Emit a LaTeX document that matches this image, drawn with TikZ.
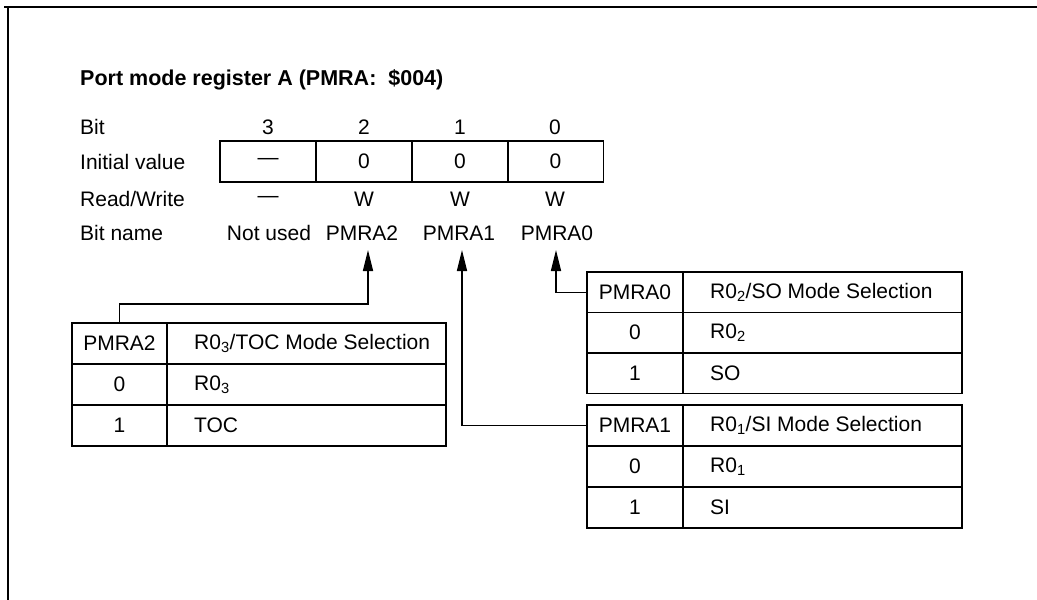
\documentclass[tikz,border=0pt]{standalone}
\usepackage{fontspec}
\setmainfont{Liberation Sans}
\usetikzlibrary{arrows.meta}
\begin{document}
\begin{tikzpicture}[x=1pt,y=-1pt,
  every node/.style={font=\fontsize{21}{25}\selectfont, inner sep=0pt},
  lbl/.style={anchor=west},
  cell/.style={draw, line width=1.6pt, minimum height=41pt, minimum width=96pt},
  wcell/.style={cell, minimum width=279pt},
  conn/.style={line width=1.4pt},
  arr/.style={conn, -{Triangle[length=21pt,width=10pt]}},
  frame/.style={line width=2.6pt}]
\useasboundingbox (0,0) rectangle (1037,600);
% frame
\draw[frame] (4,7) -- (1037,7);
\draw[frame] (8,6) -- (8,600);
% title
\node[lbl, font=\fontsize{21.5}{25}\selectfont\bfseries] (title) at (80,80) {Port mode register A (PMRA:\ \ \$004)};
% row labels
\node[lbl] (lbit) at (80,127) {Bit};
\node[lbl] (linit) at (80,162) {Initial value};
\node[lbl] (lrw) at (80,199) {Read/Write};
\node[lbl] (lname) at (80,233) {Bit name};
% bit numbers
\node (b3) at (268,127) {3};
\node (b2) at (364,127) {2};
\node (b1) at (460,127) {1};
\node (b0) at (555,127) {0};
% register cells
\node[cell] (i3) at (268,161.5) {—};
\node[cell] (i2) at (364,161.5) {0};
\node[cell] (i1) at (460,161.5) {0};
\node[cell] (i0) at (555.5,161.5) {0};
% read/write
\node (w3) at (268,199) {—};
\node (w2) at (364,199) {W};
\node (w1) at (460,199) {W};
\node (w0) at (555,199) {W};
% bit names
\node (n3) at (269,233) {Not used};
\node (n2) at (362,233) {PMRA2};
\node (n1) at (459,233) {PMRA1};
\node (n0) at (557,233) {PMRA0};
% arrow tips
\coordinate (a2) at (368,250);
\coordinate (a1) at (462,250);
\coordinate (a0) at (556,250);
\coordinate (k2) at (368,304);
% PMRA2 table
\node[cell, minimum width=95pt] (t2h1) at (119.5,343.5) {PMRA2};
\node[wcell] (t2h2) at (306.5,343.5) {};
\node[lbl] (t2h2t) at (194,343.5) {R0\textsubscript{3}/TOC Mode Selection};
\node[cell, minimum width=95pt] (t2a1) at (119.5,384.5) {0};
\node[wcell] (t2a2) at (306.5,384.5) {};
\node[lbl] (t2a2t) at (194,384.5) {R0\textsubscript{3}};
\node[cell, minimum width=95pt] (t2b1) at (119.5,425.5) {1};
\node[wcell] (t2b2) at (306.5,425.5) {};
\node[lbl] (t2b2t) at (194,425.5) {TOC};
% PMRA0 table
\node[cell, minimum height=40.5pt] (t0h1) at (635,292.25) {PMRA0};
\node[wcell, minimum height=40.5pt] (t0h2) at (822.5,292.25) {};
\node[lbl] (t0h2t) at (710,292.25) {R0\textsubscript{2}/SO Mode Selection};
\node[cell, minimum height=40.5pt] (t0a1) at (635,332.75) {0};
\node[wcell, minimum height=40.5pt] (t0a2) at (822.5,332.75) {};
\node[lbl] (t0a2t) at (710,332.75) {R0\textsubscript{2}};
\node[cell, minimum height=40.5pt] (t0b1) at (635,373.25) {1};
\node[wcell, minimum height=40.5pt] (t0b2) at (822.5,373.25) {};
\node[lbl] (t0b2t) at (710,373.25) {SO};
% PMRA1 table
\node[cell] (t1h1) at (635,425.5) {PMRA1};
\node[wcell] (t1h2) at (822.5,425.5) {};
\node[lbl] (t1h2t) at (710,425.5) {R0\textsubscript{1}/SI Mode Selection};
\node[cell] (t1a1) at (635,466.5) {0};
\node[wcell] (t1a2) at (822.5,466.5) {};
\node[lbl] (t1a2t) at (710,466.5) {R0\textsubscript{1}};
\node[cell] (t1b1) at (635,507.5) {1};
\node[wcell] (t1b2) at (822.5,507.5) {};
\node[lbl] (t1b2t) at (710,507.5) {SI};
% connectors
\draw[arr] (t2h1.north) |- (k2) -- (a2);
\draw[arr] (t1h1.west) -| (a1);
\draw[arr] (t0h1.west) -| (a0);
\end{tikzpicture}
\end{document}
